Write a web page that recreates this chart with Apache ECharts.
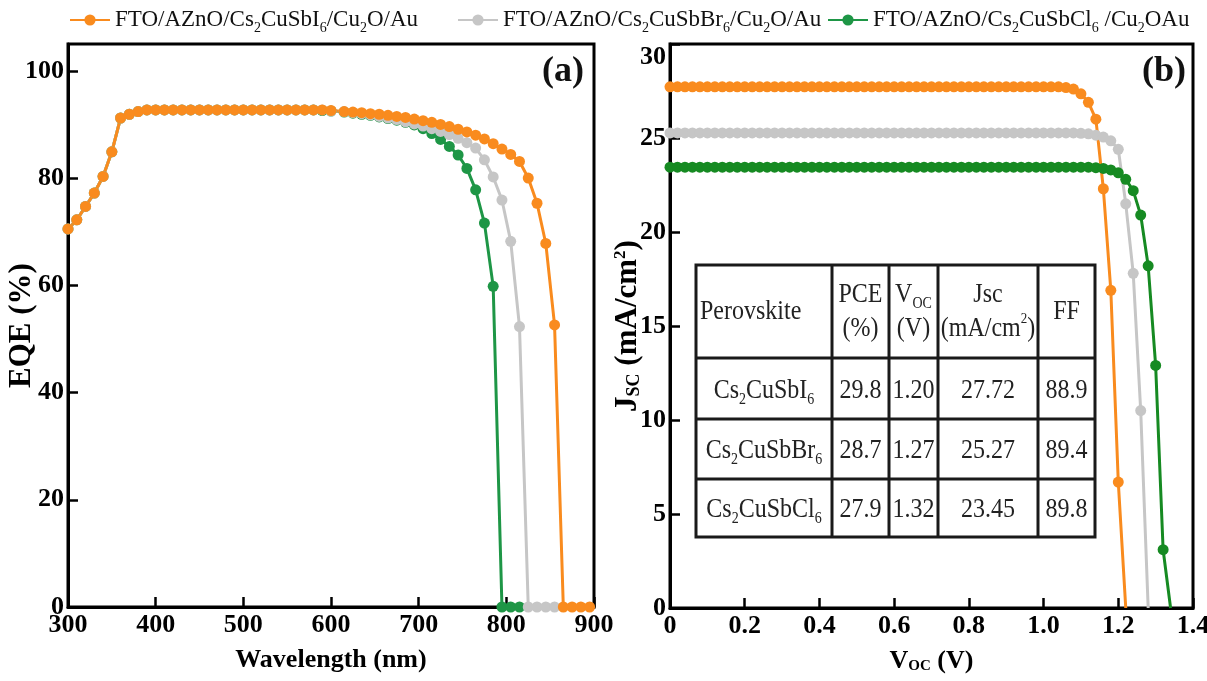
<!DOCTYPE html>
<html><head><meta charset="utf-8">
<script src="https://cdn.jsdelivr.net/npm/echarts@6/dist/echarts.min.js"></script>
<style>html,body{margin:0;padding:0;background:#fff}#c{width:1207px;height:681px}</style>
</head><body><div id="c"></div>
<script>
// ---------- DATA ----------
const seriesNames = ['FTO/AZnO/Cs2CuSbI6/Cu2O/Au', 'FTO/AZnO/Cs2CuSbBr6/Cu2O/Au', 'FTO/AZnO/Cs2CuSbCl6 /Cu2OAu'];
const legendLabels = ['FTO/AZnO/Cs{s|2}CuSbI{s|6}/Cu{s|2}O/Au', 'FTO/AZnO/Cs{s|2}CuSbBr{s|6}/Cu{s|2}O/Au', 'FTO/AZnO/Cs{s|2}CuSbCl{s|6} /Cu{s|2}OAu'];

// Panel (a): EQE vs wavelength
const wlI = [300,310,320,330,340,350,360,370,380,390,400,410,420,430,440,450,460,470,480,490,500,510,520,530,540,550,560,570,580,590,600,
  615,625,635,645,655,665,675,685,695,705,715,725,735,745,755,765,775,785,795,805,815,825,835,845,855,865,875,885,895];
const eqeI = [70.5,72.2,74.7,77.2,80.3,84.9,91.2,91.9,92.4,92.7,92.7,92.7,92.7,92.7,92.7,92.7,92.7,92.7,92.7,92.7,92.7,92.7,92.7,92.7,92.7,92.7,92.7,92.7,92.7,92.7,92.6,
  92.4,92.3,92.2,92.0,91.9,91.7,91.5,91.3,91.0,90.7,90.4,90.0,89.6,89.1,88.6,88.0,87.3,86.4,85.4,84.4,83.1,80.0,75.3,67.8,52.6,0,0,0,0];
const wlBr = [300,310,320,330,340,350,360,370,380,390,400,410,420,430,440,450,460,470,480,490,500,510,520,530,540,550,560,570,580,590,600,
  615,625,635,645,655,665,675,685,695,705,715,725,735,745,755,765,775,785,795,805,815,825,835,845,855];
const eqeBr = [70.5,72.2,74.7,77.2,80.3,84.9,91.2,91.9,92.4,92.7,92.7,92.7,92.7,92.7,92.7,92.7,92.7,92.7,92.7,92.7,92.7,92.7,92.7,92.7,92.7,92.7,92.7,92.7,92.7,92.7,92.5,
  92.4,92.2,92.0,91.8,91.5,91.2,90.9,90.5,90.1,89.7,89.2,88.7,88.1,87.4,86.6,85.6,83.4,80.2,75.9,68.2,52.3,0,0,0,0];
const wlCl = [300,310,320,330,340,350,360,370,380,390,400,410,420,430,440,450,460,470,480,490,500,510,520,530,540,550,560,570,580,590,600,
  615,625,635,645,655,665,675,685,695,705,715,725,735,745,755,765,775,785,795,805,815];
const eqeCl = [70.5,72.2,74.7,77.2,80.3,84.9,91.2,91.9,92.4,92.7,92.7,92.7,92.7,92.7,92.7,92.7,92.7,92.7,92.7,92.7,92.7,92.7,92.7,92.7,92.7,92.7,92.7,92.7,92.7,92.6,92.5,
  92.3,92.1,91.9,91.7,91.4,91.1,90.8,90.4,89.9,89.2,88.3,87.2,85.9,84.3,81.8,77.8,71.6,59.8,0,0,0];

// Panel (b): J-V
const voltage = [0,0.02,0.04,0.06,0.08,0.10,0.12,0.14,0.16,0.18,0.20,0.22,0.24,0.26,0.28,0.30,0.32,0.34,0.36,0.38,0.40,0.42,0.44,0.46,0.48,0.50,0.52,0.54,0.56,0.58,0.60,0.62,0.64,0.66,0.68,0.70,0.72,0.74,0.76,0.78,0.80,0.82,0.84,0.86,0.88,0.90,0.92,0.94,0.96,0.98,1.00,1.02,1.04,1.06,1.08,1.10,1.12,1.14,1.16,1.18,1.20,1.22,1.24,1.26,1.28,1.30,1.32,1.34];
const jscI = [27.72,27.72,27.72,27.72,27.72,27.72,27.72,27.72,27.72,27.72,27.72,27.72,27.72,27.72,27.72,27.72,27.72,27.72,27.72,27.72,27.72,27.72,27.72,27.72,27.72,27.72,27.72,27.72,27.72,27.72,27.72,27.72,27.72,27.72,27.72,27.72,27.72,27.72,27.72,27.72,27.72,27.72,27.72,27.72,27.72,27.72,27.72,27.72,27.72,27.72,27.72,27.72,27.72,
  27.68,27.6,27.35,26.9,26.0,22.3,16.9,6.7,0];
const jscBr = [25.27,25.27,25.27,25.27,25.27,25.27,25.27,25.27,25.27,25.27,25.27,25.27,25.27,25.27,25.27,25.27,25.27,25.27,25.27,25.27,25.27,25.27,25.27,25.27,25.27,25.27,25.27,25.27,25.27,25.27,25.27,25.27,25.27,25.27,25.27,25.27,25.27,25.27,25.27,25.27,25.27,25.27,25.27,25.27,25.27,25.27,25.27,25.27,25.27,25.27,25.27,25.27,25.27,25.27,25.27,
  25.25,25.22,25.15,25.05,24.85,24.4,21.5,17.8,10.5,0];
const jscCl = [23.45,23.45,23.45,23.45,23.45,23.45,23.45,23.45,23.45,23.45,23.45,23.45,23.45,23.45,23.45,23.45,23.45,23.45,23.45,23.45,23.45,23.45,23.45,23.45,23.45,23.45,23.45,23.45,23.45,23.45,23.45,23.45,23.45,23.45,23.45,23.45,23.45,23.45,23.45,23.45,23.45,23.45,23.45,23.45,23.45,23.45,23.45,23.45,23.45,23.45,23.45,23.45,23.45,23.45,23.45,23.45,23.45,
  23.42,23.38,23.3,23.15,22.8,22.2,20.9,18.2,12.9,3.1,0];

// Inset table
const tableHeader = ['Perovskite', 'PCE\n(%)', 'V{s|OC}\n(V)', 'Jsc\n(mA/cm{p|2})', 'FF'];
const tableMaterials = ['Cs{s|2}CuSbI{s|6}', 'Cs{s|2}CuSbBr{s|6}', 'Cs{s|2}CuSbCl{s|6}'];
const tablePCE = ['29.8', '28.7', '27.9'];
const tableVoc = ['1.20', '1.27', '1.32'];
const tableJsc = ['27.72', '25.27', '23.45'];
const tableFF = ['88.9', '89.4', '89.8'];

// ---------- STYLE ----------
const FONT = '"Liberation Serif","Times New Roman",serif';
const colorsA = ['#F98B1E', '#C6C6C6', '#1E9646'];
const colorsB = ['#F98B1E', '#C6C6C6', '#168A22'];

const chart = echarts.init(document.getElementById('c'));

const tickLabel = { fontFamily: FONT, fontWeight: 'bold', fontSize: 26, color: '#000' };
function axisBase(extra) {
  return Object.assign({
    type: 'value',
    nameLocation: 'middle',
    nameMoveOverlap: false,
    axisLine: { show: true, lineStyle: { color: '#000', width: 3 } },
    axisTick: { show: true, inside: true, length: 10, lineStyle: { color: '#000', width: 2.5 } },
    axisLabel: Object.assign({ margin: 5 }, tickLabel),
    splitLine: { show: false }
  }, extra);
}
function nameRich(size) {
  return {
    b: { fontFamily: FONT, fontWeight: 'bold', fontSize: size, color: '#000', lineHeight: size },
    s: { fontFamily: FONT, fontWeight: 'bold', fontSize: Math.round(size * 0.58), color: '#000', lineHeight: Math.round(size * 0.58), verticalAlign: 'bottom' },
    p: { fontFamily: FONT, fontWeight: 'bold', fontSize: Math.round(size * 0.55), color: '#000', lineHeight: Math.round(size * 0.55), verticalAlign: 'top' }
  };
}

function lineSeries(name, xs, ys, color, xi, hideLast) {
  return {
    type: 'line', name: name, xAxisIndex: xi, yAxisIndex: xi,
    data: xs.slice(0, ys.length).map((x, i) => {
      if (hideLast && i === ys.length - 1) return { value: [x, ys[i]], symbol: 'none' };
      return [x, ys[i]];
    }),
    symbol: 'circle', symbolSize: 11, showAllSymbol: true,
    lineStyle: { width: 3, color: color }, itemStyle: { color: color },
    emphasis: { disabled: true }
  };
}

// table graphic
const cols = [696, 832, 889, 938, 1038, 1095];
const rows = [265, 358, 419, 479, 537];
const cellRich = {
  s: { fontFamily: FONT, fontSize: 14, lineHeight: 14, verticalAlign: 'bottom', fill: '#222' },
  p: { fontFamily: FONT, fontSize: 13, lineHeight: 13, verticalAlign: 'top', fill: '#222' }
};
const tableEls = [];
tableEls.push({ type: 'rect', shape: { x: cols[0], y: rows[0], width: cols[5] - cols[0], height: rows[4] - rows[0] },
  style: { fill: '#fff', stroke: '#1a1a1a', lineWidth: 3 }, z: 20 });
for (let i = 1; i < cols.length - 1; i++) {
  tableEls.push({ type: 'line', shape: { x1: cols[i], y1: rows[0], x2: cols[i], y2: rows[4] }, style: { stroke: '#1a1a1a', lineWidth: 3 }, z: 21 });
}
for (let j = 1; j < rows.length - 1; j++) {
  tableEls.push({ type: 'line', shape: { x1: cols[0], y1: rows[j], x2: cols[5], y2: rows[j] }, style: { stroke: '#1a1a1a', lineWidth: 3 }, z: 21 });
}
function cellText(txt, cx, cy, align) {
  return { type: 'text', x: cx, y: cy, z: 22, scaleY: 1.18,
    style: { text: txt, fill: '#222', fontFamily: FONT, fontSize: 24, lineHeight: 29,
      align: align || 'center', verticalAlign: 'middle', rich: cellRich } };
}
const hy = (rows[0] + rows[1]) / 2;
tableHeader.forEach((t, i) => {
  if (i === 0) tableEls.push(cellText(t, cols[0] + 4, hy, 'left'));
  else tableEls.push(cellText(t, (cols[i] + cols[i + 1]) / 2, hy));
});
for (let r = 0; r < 3; r++) {
  const cy = (rows[r + 1] + rows[r + 2]) / 2 + 2;
  const vals = [tableMaterials[r], tablePCE[r], tableVoc[r], tableJsc[r], tableFF[r]];
  vals.forEach((t, i) => tableEls.push(cellText(t, (cols[i] + cols[i + 1]) / 2, cy)));
}
tableEls.push({ type: 'text', x: 584, y: 54, z: 30, style: { text: '(a)', fontFamily: FONT, fontWeight: 'bold', fontSize: 36, fill: '#111', align: 'right', verticalAlign: 'top' } });
tableEls.push({ type: 'text', x: 1186, y: 54, z: 30, style: { text: '(b)', fontFamily: FONT, fontWeight: 'bold', fontSize: 36, fill: '#111', align: 'right', verticalAlign: 'top' } });

const legendLefts = [64, 452, 822];
const legends = seriesNames.map((n, i) => ({
  data: [n], top: 0, left: legendLefts[i], itemWidth: 40, itemHeight: 14,
  formatter: nm => legendLabels[seriesNames.indexOf(nm)],
  textStyle: { fontFamily: FONT, fontSize: 23, color: '#111', lineHeight: 30,
    rich: { s: { fontFamily: FONT, fontSize: 14, lineHeight: 14, verticalAlign: 'bottom', color: '#111' } } }
}));

const option = {
  animation: false,
  backgroundColor: '#fff',
  legend: legends,
  grid: [
    { left: 68, top: 44, width: 526, height: 563, show: true, borderColor: '#000', borderWidth: 3, containLabel: false, outerBoundsMode: 'none' },
    { left: 670, top: 44, width: 523, height: 564, show: true, borderColor: '#000', borderWidth: 3, containLabel: false, outerBoundsMode: 'none' }
  ],
  xAxis: [
    axisBase({ gridIndex: 0, min: 300, max: 900, interval: 100, name: '{b|Wavelength (nm)}', nameGap: 40,
      nameTextStyle: { rich: nameRich(26) } }),
    axisBase({ gridIndex: 1, min: 0, max: 1.4, interval: 0.2, name: '{b|V}{s|OC}{b| (V)}', nameGap: 40,
      nameTextStyle: { rich: nameRich(26) },
      axisLabel: Object.assign({ margin: 5, formatter: v => (v === 0 ? '0' : v.toFixed(1)) }, tickLabel) })
  ],
  yAxis: [
    axisBase({ gridIndex: 0, min: 0, max: 105, interval: 20, name: '{b|EQE (%)}', nameGap: 31,
      nameTextStyle: { rich: nameRich(31) },
      axisLabel: Object.assign({ margin: 4, showMaxLabel: false }, tickLabel) }),
    axisBase({ gridIndex: 1, min: 0, max: 30, interval: 5, name: '{b|J}{s|SC}{b| (mA/cm}{p|2}{b|)}', nameGap: 27,
      nameTextStyle: { rich: nameRich(31) },
      axisLabel: Object.assign({ margin: 4, verticalAlignMaxLabel: 'top' }, tickLabel) })
  ],
  series: [
    lineSeries(seriesNames[2], wlCl, eqeCl, colorsA[2], 0, false),
    lineSeries(seriesNames[1], wlBr, eqeBr, colorsA[1], 0, false),
    lineSeries(seriesNames[0], wlI, eqeI, colorsA[0], 0, false),
    lineSeries(seriesNames[2], voltage, jscCl, colorsB[2], 1, true),
    lineSeries(seriesNames[1], voltage, jscBr, colorsB[1], 1, true),
    lineSeries(seriesNames[0], voltage, jscI, colorsB[0], 1, true)
  ],
  graphic: tableEls
};
chart.setOption(option);
</script>
</body></html>
